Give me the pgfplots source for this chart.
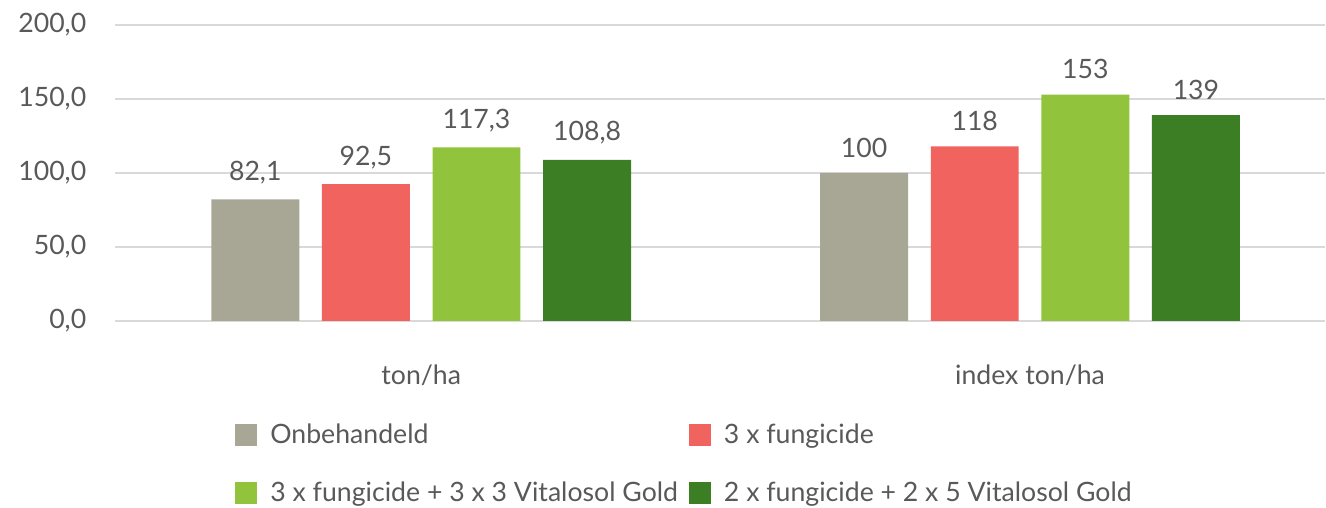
\documentclass[border=0pt]{standalone}
\usepackage{pgfplots}
\pgfplotsset{compat=1.18}
\usepackage{fontspec}
\setmainfont{Lato}

\definecolor{cgray}{HTML}{A8A795}
\definecolor{cred}{HTML}{F0635E}
\definecolor{clgreen}{HTML}{92C33C}
\definecolor{cdgreen}{HTML}{3B7E23}
\definecolor{ctext}{HTML}{595959}
\definecolor{cgrid}{HTML}{D9D9D9}

\begin{document}
\begin{tikzpicture}[font=\fontsize{20}{23}\selectfont,text=ctext]
% fixed page size: 1326 x 508 px at 0.75pt/px
\path (0,0) rectangle (994.5pt,381pt);
\begin{axis}[
  at={(86.25pt,140.25pt)},anchor=south west,
  scale only axis,width=908.25pt,height=222pt,
  ybar=17pt,bar width=66pt,
  xmin=-0.503,xmax=1.485,ymin=0,ymax=200,
  xtick={0,1},xticklabels={ton/ha,index ton/ha},
  ytick={0,50,100,150,200},
  axis line style={draw=none},tick style={draw=none},
  ymajorgrids,grid style={cgrid,line width=1pt},
  yticklabel style={xshift=-18pt,text=ctext,
    /pgf/number format/fixed,/pgf/number format/fixed zerofill,
    /pgf/number format/precision=1,/pgf/number format/use comma,
    /pgf/number format/assume math mode=true},
  xticklabel style={yshift=-25pt,text=ctext},
  point meta=explicit symbolic,
  nodes near coords,
  every node near coord/.append style={yshift=8pt,text=ctext},
  legend columns=2,
  legend style={at={(0.099,-0.34)},anchor=north west,draw=none,fill=none,
    inner sep=0pt,column sep=8pt,row sep=23pt,text=ctext,
    /tikz/every even column/.append style={column sep=6pt}},
  legend cell align=left,
  legend image code/.code={\fill[#1] (0pt,-8.25pt) rectangle (16.5pt,8.25pt);},
]
\addplot[fill=cgray,draw=none] coordinates {(0,82.1) [82,1] (1,100) [100]};
\addplot[fill=cred,draw=none] coordinates {(0,92.5) [92,5] (1,118) [118]};
\addplot[fill=clgreen,draw=none] coordinates {(0,117.3) [117,3] (1,153) [153]};
\addplot[fill=cdgreen,draw=none] coordinates {(0,108.8) [108,8] (1,139) [139]};
\legend{Onbehandeld,3 x fungicide,3 x fungicide + 3 x 3 Vitalosol Gold,2 x fungicide + 2 x 5 Vitalosol Gold}
\end{axis}
\end{tikzpicture}
\end{document}
